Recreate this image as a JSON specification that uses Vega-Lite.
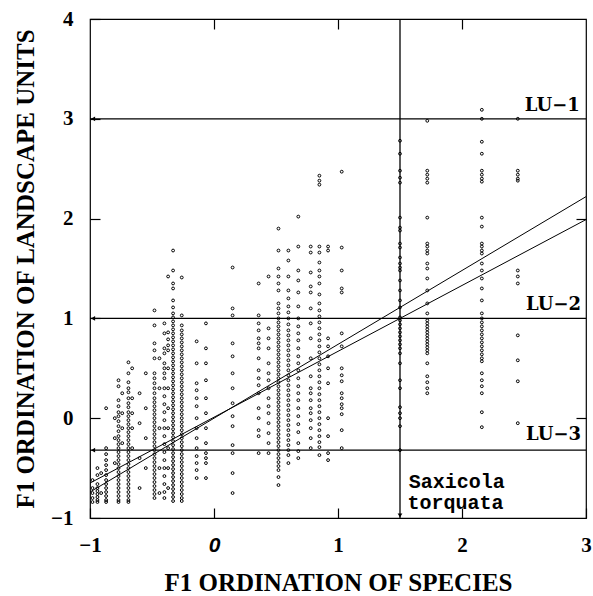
{
"$schema": "https://vega.github.io/schema/vega-lite/v6.json",
"width": 496, "height": 499,
"autosize": {"type": "none"},
"padding": {"left": 90, "top": 19, "right": 7, "bottom": 78},
"background": "white",
"config": {
 "view": {"stroke": "black", "strokeWidth": 1.2},
 "axis": {"grid": false, "domain": false, "ticks": true, "tickSize": -10, "tickColor": "black", "tickWidth": 1.2,
  "labelFont": "Liberation Serif", "labelFontWeight": "bold", "labelFontSize": 21, "labelColor": "black",
  "titleFont": "Liberation Serif", "titleFontWeight": "bold", "titleFontSize": 25, "titleColor": "black"}
},
"datasets": {
 "pts": [
{"x":-0.98,"y":-0.62},{"x":-0.98,"y":-0.7},{"x":-0.98,"y":-0.75},{"x":-0.98,"y":-0.8},{"x":-0.98,"y":-0.84},
{"x":-0.94,"y":-0.5},{"x":-0.94,"y":-0.57},{"x":-0.94,"y":-0.66},{"x":-0.94,"y":-0.7},{"x":-0.94,"y":-0.73},{"x":-0.94,"y":-0.76},{"x":-0.94,"y":-0.79},{"x":-0.94,"y":-0.82},{"x":-0.94,"y":-0.84},
{"x":-0.91,"y":-0.55},{"x":-0.91,"y":-0.75},
{"x":-0.87,"y":0.1},{"x":-0.87,"y":-0.3},{"x":-0.87,"y":-0.36},{"x":-0.87,"y":-0.42},{"x":-0.87,"y":-0.47},{"x":-0.87,"y":-0.52},{"x":-0.87,"y":-0.57},{"x":-0.87,"y":-0.62},{"x":-0.87,"y":-0.66},{"x":-0.87,"y":-0.7},{"x":-0.87,"y":-0.74},{"x":-0.87,"y":-0.78},{"x":-0.87,"y":-0.82},{"x":-0.87,"y":-0.84},
{"x":-0.8,"y":0.0},{"x":-0.8,"y":-0.2},{"x":-0.8,"y":-0.45},
{"x":-0.77,"y":0.38},{"x":-0.77,"y":0.32},{"x":-0.77,"y":0.18},{"x":-0.77,"y":0.12},{"x":-0.77,"y":0.06},{"x":-0.77,"y":0.02},{"x":-0.77,"y":-0.03},{"x":-0.77,"y":-0.08},{"x":-0.77,"y":-0.13},{"x":-0.77,"y":-0.18},{"x":-0.77,"y":-0.22},{"x":-0.77,"y":-0.26},{"x":-0.77,"y":-0.3},{"x":-0.77,"y":-0.34},{"x":-0.77,"y":-0.38},{"x":-0.77,"y":-0.42},{"x":-0.77,"y":-0.46},{"x":-0.77,"y":-0.5},{"x":-0.77,"y":-0.54},{"x":-0.77,"y":-0.58},{"x":-0.77,"y":-0.62},{"x":-0.77,"y":-0.66},{"x":-0.77,"y":-0.7},{"x":-0.77,"y":-0.74},{"x":-0.77,"y":-0.78},{"x":-0.77,"y":-0.82},{"x":-0.77,"y":-0.84},
{"x":-0.74,"y":0.25},{"x":-0.74,"y":0.05},{"x":-0.74,"y":-0.1},{"x":-0.74,"y":-0.25},
{"x":-0.69,"y":0.56},{"x":-0.69,"y":0.45},{"x":-0.69,"y":0.36},{"x":-0.69,"y":0.3},{"x":-0.69,"y":0.26},{"x":-0.69,"y":0.2},{"x":-0.69,"y":0.15},{"x":-0.69,"y":0.11},{"x":-0.69,"y":0.06},{"x":-0.69,"y":0.02},{"x":-0.69,"y":-0.02},{"x":-0.69,"y":-0.06},{"x":-0.69,"y":-0.1},{"x":-0.69,"y":-0.14},{"x":-0.69,"y":-0.18},{"x":-0.69,"y":-0.22},{"x":-0.69,"y":-0.26},{"x":-0.69,"y":-0.3},{"x":-0.69,"y":-0.34},{"x":-0.69,"y":-0.38},{"x":-0.69,"y":-0.42},{"x":-0.69,"y":-0.46},{"x":-0.69,"y":-0.5},{"x":-0.69,"y":-0.54},{"x":-0.69,"y":-0.58},{"x":-0.69,"y":-0.62},{"x":-0.69,"y":-0.66},{"x":-0.69,"y":-0.7},{"x":-0.69,"y":-0.74},{"x":-0.69,"y":-0.78},{"x":-0.69,"y":-0.82},{"x":-0.69,"y":-0.84},
{"x":-0.66,"y":0.5},{"x":-0.66,"y":0.2},{"x":-0.66,"y":0.05},{"x":-0.66,"y":-0.1},{"x":-0.66,"y":-0.3},
{"x":-0.6,"y":0.25},{"x":-0.6,"y":-0.05},{"x":-0.6,"y":-0.4},{"x":-0.6,"y":-0.7},
{"x":-0.55,"y":0.45},{"x":-0.55,"y":0.1},{"x":-0.55,"y":-0.2},{"x":-0.55,"y":-0.5},
{"x":-0.48,"y":1.08},{"x":-0.48,"y":0.93},{"x":-0.48,"y":0.75},{"x":-0.48,"y":0.68},{"x":-0.48,"y":0.6},{"x":-0.48,"y":0.45},{"x":-0.48,"y":0.4},{"x":-0.48,"y":0.35},{"x":-0.48,"y":0.3},{"x":-0.48,"y":0.25},{"x":-0.48,"y":0.2},{"x":-0.48,"y":0.16},{"x":-0.48,"y":0.12},{"x":-0.48,"y":0.08},{"x":-0.48,"y":0.04},{"x":-0.48,"y":0.0},{"x":-0.48,"y":-0.04},{"x":-0.48,"y":-0.08},{"x":-0.48,"y":-0.12},{"x":-0.48,"y":-0.16},{"x":-0.48,"y":-0.2},{"x":-0.48,"y":-0.24},{"x":-0.48,"y":-0.28},{"x":-0.48,"y":-0.32},{"x":-0.48,"y":-0.36},{"x":-0.48,"y":-0.4},{"x":-0.48,"y":-0.44},{"x":-0.48,"y":-0.48},{"x":-0.48,"y":-0.52},{"x":-0.48,"y":-0.56},{"x":-0.48,"y":-0.6},{"x":-0.48,"y":-0.64},{"x":-0.48,"y":-0.68},{"x":-0.48,"y":-0.72},{"x":-0.48,"y":-0.76},{"x":-0.48,"y":-0.8},
{"x":-0.44,"y":0.6},{"x":-0.44,"y":0.3},{"x":-0.44,"y":-0.1},{"x":-0.44,"y":-0.5},{"x":-0.44,"y":-0.75},
{"x":-0.4,"y":0.95},{"x":-0.4,"y":0.85},{"x":-0.4,"y":0.7},{"x":-0.4,"y":0.65},{"x":-0.4,"y":0.55},{"x":-0.4,"y":0.5},{"x":-0.4,"y":0.45},{"x":-0.4,"y":0.4},{"x":-0.4,"y":0.3},{"x":-0.4,"y":0.22},{"x":-0.4,"y":0.14},{"x":-0.4,"y":0.06},{"x":-0.4,"y":-0.02},{"x":-0.4,"y":-0.1},{"x":-0.4,"y":-0.18},{"x":-0.4,"y":-0.26},{"x":-0.4,"y":-0.34},{"x":-0.4,"y":-0.42},{"x":-0.4,"y":-0.5},{"x":-0.4,"y":-0.58},{"x":-0.4,"y":-0.66},{"x":-0.4,"y":-0.74},{"x":-0.4,"y":-0.8},
{"x":-0.37,"y":1.42},{"x":-0.37,"y":0.86},{"x":-0.37,"y":0.79},{"x":-0.37,"y":0.73},{"x":-0.37,"y":0.68},{"x":-0.37,"y":0.5},{"x":-0.37,"y":0.3},{"x":-0.37,"y":0.1},{"x":-0.37,"y":-0.1},{"x":-0.37,"y":-0.3},{"x":-0.37,"y":-0.5},{"x":-0.37,"y":-0.7},
{"x":-0.33,"y":1.68},{"x":-0.33,"y":1.48},{"x":-0.33,"y":1.35},{"x":-0.33,"y":1.3},{"x":-0.33,"y":1.18},{"x":-0.33,"y":1.11},{"x":-0.33,"y":1.05},{"x":-0.33,"y":1.01},{"x":-0.33,"y":0.97},{"x":-0.33,"y":0.93},{"x":-0.33,"y":0.89},{"x":-0.33,"y":0.85},{"x":-0.33,"y":0.81},{"x":-0.33,"y":0.77},{"x":-0.33,"y":0.73},{"x":-0.33,"y":0.69},{"x":-0.33,"y":0.65},{"x":-0.33,"y":0.61},{"x":-0.33,"y":0.57},{"x":-0.33,"y":0.53},{"x":-0.33,"y":0.49},{"x":-0.33,"y":0.45},{"x":-0.33,"y":0.41},{"x":-0.33,"y":0.37},{"x":-0.33,"y":0.33},{"x":-0.33,"y":0.29},{"x":-0.33,"y":0.25},{"x":-0.33,"y":0.21},{"x":-0.33,"y":0.17},{"x":-0.33,"y":0.13},{"x":-0.33,"y":0.09},{"x":-0.33,"y":0.05},{"x":-0.33,"y":0.01},{"x":-0.33,"y":-0.03},{"x":-0.33,"y":-0.07},{"x":-0.33,"y":-0.11},{"x":-0.33,"y":-0.15},{"x":-0.33,"y":-0.19},{"x":-0.33,"y":-0.23},{"x":-0.33,"y":-0.27},{"x":-0.33,"y":-0.31},{"x":-0.33,"y":-0.35},{"x":-0.33,"y":-0.39},{"x":-0.33,"y":-0.43},{"x":-0.33,"y":-0.47},{"x":-0.33,"y":-0.51},{"x":-0.33,"y":-0.55},{"x":-0.33,"y":-0.59},{"x":-0.33,"y":-0.63},{"x":-0.33,"y":-0.67},{"x":-0.33,"y":-0.71},{"x":-0.33,"y":-0.75},{"x":-0.33,"y":-0.79},{"x":-0.33,"y":-0.83},
{"x":-0.26,"y":1.41},{"x":-0.26,"y":1.03},{"x":-0.26,"y":0.93},{"x":-0.26,"y":0.88},{"x":-0.26,"y":0.84},{"x":-0.26,"y":0.8},{"x":-0.26,"y":0.76},{"x":-0.26,"y":0.72},{"x":-0.26,"y":0.68},{"x":-0.26,"y":0.64},{"x":-0.26,"y":0.6},{"x":-0.26,"y":0.56},{"x":-0.26,"y":0.52},{"x":-0.26,"y":0.48},{"x":-0.26,"y":0.44},{"x":-0.26,"y":0.4},{"x":-0.26,"y":0.36},{"x":-0.26,"y":0.32},{"x":-0.26,"y":0.28},{"x":-0.26,"y":0.24},{"x":-0.26,"y":0.2},{"x":-0.26,"y":0.16},{"x":-0.26,"y":0.12},{"x":-0.26,"y":0.08},{"x":-0.26,"y":0.04},{"x":-0.26,"y":0.0},{"x":-0.26,"y":-0.04},{"x":-0.26,"y":-0.08},{"x":-0.26,"y":-0.12},{"x":-0.26,"y":-0.16},{"x":-0.26,"y":-0.2},{"x":-0.26,"y":-0.24},{"x":-0.26,"y":-0.28},{"x":-0.26,"y":-0.32},{"x":-0.26,"y":-0.36},{"x":-0.26,"y":-0.4},{"x":-0.26,"y":-0.44},{"x":-0.26,"y":-0.48},{"x":-0.26,"y":-0.52},{"x":-0.26,"y":-0.56},{"x":-0.26,"y":-0.6},{"x":-0.26,"y":-0.64},{"x":-0.26,"y":-0.68},{"x":-0.26,"y":-0.72},{"x":-0.26,"y":-0.76},{"x":-0.26,"y":-0.8},{"x":-0.26,"y":-0.83},
{"x":-0.14,"y":0.77},{"x":-0.14,"y":0.55},{"x":-0.14,"y":0.35},{"x":-0.14,"y":0.28},{"x":-0.14,"y":0.2},{"x":-0.14,"y":0.12},{"x":-0.14,"y":0.0},{"x":-0.14,"y":-0.1},{"x":-0.14,"y":-0.2},{"x":-0.14,"y":-0.3},{"x":-0.14,"y":-0.38},{"x":-0.14,"y":-0.45},{"x":-0.14,"y":-0.52},{"x":-0.14,"y":-0.6},
{"x":-0.065,"y":0.95},{"x":-0.065,"y":0.7},{"x":-0.065,"y":0.55},{"x":-0.065,"y":0.38},{"x":-0.065,"y":0.2},{"x":-0.065,"y":0.05},{"x":-0.065,"y":-0.1},{"x":-0.065,"y":-0.25},{"x":-0.065,"y":-0.35},{"x":-0.065,"y":-0.4},{"x":-0.065,"y":-0.45},{"x":-0.065,"y":-0.6},
{"x":0.15,"y":1.51},{"x":0.15,"y":1.1},{"x":0.15,"y":1.03},{"x":0.15,"y":0.75},{"x":0.15,"y":0.62},{"x":0.15,"y":0.45},{"x":0.15,"y":0.3},{"x":0.15,"y":0.15},{"x":0.15,"y":0.02},{"x":0.15,"y":-0.08},{"x":0.15,"y":-0.27},{"x":0.15,"y":-0.35},{"x":0.15,"y":-0.55},{"x":0.15,"y":-0.75},
{"x":0.36,"y":1.35},{"x":0.36,"y":1.03},{"x":0.36,"y":0.95},{"x":0.36,"y":0.88},{"x":0.36,"y":0.8},{"x":0.36,"y":0.75},{"x":0.36,"y":0.7},{"x":0.36,"y":0.6},{"x":0.36,"y":0.48},{"x":0.36,"y":0.4},{"x":0.36,"y":0.33},{"x":0.36,"y":0.25},{"x":0.36,"y":0.1},{"x":0.36,"y":0.0},{"x":0.36,"y":-0.12},{"x":0.36,"y":-0.18},{"x":0.36,"y":-0.35},
{"x":0.44,"y":1.42},{"x":0.44,"y":0.9},{"x":0.44,"y":0.8},{"x":0.44,"y":0.7},{"x":0.44,"y":0.55},{"x":0.44,"y":0.45},{"x":0.44,"y":0.38},{"x":0.44,"y":0.3},{"x":0.44,"y":0.2},{"x":0.44,"y":0.12},{"x":0.44,"y":0.05},{"x":0.44,"y":-0.05},{"x":0.44,"y":-0.15},{"x":0.44,"y":-0.25},{"x":0.44,"y":-0.35},
{"x":0.52,"y":1.9},{"x":0.52,"y":1.68},{"x":0.52,"y":1.5},{"x":0.52,"y":1.42},{"x":0.52,"y":1.35},{"x":0.52,"y":1.28},{"x":0.52,"y":1.15},{"x":0.52,"y":1.1},{"x":0.52,"y":1.05},{"x":0.52,"y":1.0},{"x":0.52,"y":0.96},{"x":0.52,"y":0.92},{"x":0.52,"y":0.88},{"x":0.52,"y":0.84},{"x":0.52,"y":0.8},{"x":0.52,"y":0.76},{"x":0.52,"y":0.72},{"x":0.52,"y":0.68},{"x":0.52,"y":0.64},{"x":0.52,"y":0.6},{"x":0.52,"y":0.56},{"x":0.52,"y":0.52},{"x":0.52,"y":0.48},{"x":0.52,"y":0.44},{"x":0.52,"y":0.4},{"x":0.52,"y":0.36},{"x":0.52,"y":0.32},{"x":0.52,"y":0.28},{"x":0.52,"y":0.24},{"x":0.52,"y":0.2},{"x":0.52,"y":0.16},{"x":0.52,"y":0.12},{"x":0.52,"y":0.08},{"x":0.52,"y":0.04},{"x":0.52,"y":0.0},{"x":0.52,"y":-0.04},{"x":0.52,"y":-0.08},{"x":0.52,"y":-0.12},{"x":0.52,"y":-0.16},{"x":0.52,"y":-0.2},{"x":0.52,"y":-0.24},{"x":0.52,"y":-0.28},{"x":0.52,"y":-0.32},{"x":0.52,"y":-0.36},{"x":0.52,"y":-0.4},{"x":0.52,"y":-0.44},{"x":0.52,"y":-0.48},{"x":0.52,"y":-0.52},{"x":0.52,"y":-0.59},{"x":0.52,"y":-0.67},
{"x":0.6,"y":1.68},{"x":0.6,"y":1.58},{"x":0.6,"y":1.42},{"x":0.6,"y":1.28},{"x":0.6,"y":1.2},{"x":0.6,"y":1.12},{"x":0.6,"y":1.06},{"x":0.6,"y":1.0},{"x":0.6,"y":0.94},{"x":0.6,"y":0.88},{"x":0.6,"y":0.83},{"x":0.6,"y":0.78},{"x":0.6,"y":0.73},{"x":0.6,"y":0.68},{"x":0.6,"y":0.63},{"x":0.6,"y":0.58},{"x":0.6,"y":0.53},{"x":0.6,"y":0.48},{"x":0.6,"y":0.43},{"x":0.6,"y":0.38},{"x":0.6,"y":0.33},{"x":0.6,"y":0.28},{"x":0.6,"y":0.23},{"x":0.6,"y":0.18},{"x":0.6,"y":0.13},{"x":0.6,"y":0.08},{"x":0.6,"y":0.03},{"x":0.6,"y":-0.02},{"x":0.6,"y":-0.07},{"x":0.6,"y":-0.12},{"x":0.6,"y":-0.17},{"x":0.6,"y":-0.22},{"x":0.6,"y":-0.27},{"x":0.6,"y":-0.32},{"x":0.6,"y":-0.37},{"x":0.6,"y":-0.45},
{"x":0.68,"y":2.02},{"x":0.68,"y":1.72},{"x":0.68,"y":1.48},{"x":0.68,"y":1.38},{"x":0.68,"y":1.26},{"x":0.68,"y":1.12},{"x":0.68,"y":1.0},{"x":0.68,"y":0.92},{"x":0.68,"y":0.85},{"x":0.68,"y":0.78},{"x":0.68,"y":0.7},{"x":0.68,"y":0.62},{"x":0.68,"y":0.55},{"x":0.68,"y":0.48},{"x":0.68,"y":0.4},{"x":0.68,"y":0.32},{"x":0.68,"y":0.25},{"x":0.68,"y":0.18},{"x":0.68,"y":0.1},{"x":0.68,"y":0.02},{"x":0.68,"y":-0.06},{"x":0.68,"y":-0.14},{"x":0.68,"y":-0.25},{"x":0.68,"y":-0.33},{"x":0.68,"y":-0.4},
{"x":0.78,"y":1.72},{"x":0.78,"y":1.66},{"x":0.78,"y":1.46},{"x":0.78,"y":1.32},{"x":0.78,"y":1.26},{"x":0.78,"y":1.1},{"x":0.78,"y":0.95},{"x":0.78,"y":0.8},{"x":0.78,"y":0.6},{"x":0.78,"y":0.42},{"x":0.78,"y":0.3},{"x":0.78,"y":0.25},{"x":0.78,"y":0.18},{"x":0.78,"y":0.1},{"x":0.78,"y":0.05},{"x":0.78,"y":-0.02},{"x":0.78,"y":-0.1},{"x":0.78,"y":-0.2},{"x":0.78,"y":-0.3},
{"x":0.85,"y":2.43},{"x":0.85,"y":2.38},{"x":0.85,"y":2.34},{"x":0.85,"y":1.72},{"x":0.85,"y":1.66},{"x":0.85,"y":1.56},{"x":0.85,"y":1.48},{"x":0.85,"y":1.42},{"x":0.85,"y":1.35},{"x":0.85,"y":1.24},{"x":0.85,"y":1.15},{"x":0.85,"y":1.08},{"x":0.85,"y":1.02},{"x":0.85,"y":0.96},{"x":0.85,"y":0.9},{"x":0.85,"y":0.84},{"x":0.85,"y":0.78},{"x":0.85,"y":0.72},{"x":0.85,"y":0.66},{"x":0.85,"y":0.6},{"x":0.85,"y":0.54},{"x":0.85,"y":0.48},{"x":0.85,"y":0.42},{"x":0.85,"y":0.36},{"x":0.85,"y":0.3},{"x":0.85,"y":0.24},{"x":0.85,"y":0.18},{"x":0.85,"y":0.12},{"x":0.85,"y":0.06},{"x":0.85,"y":0.0},{"x":0.85,"y":-0.06},{"x":0.85,"y":-0.12},{"x":0.85,"y":-0.18},{"x":0.85,"y":-0.24},{"x":0.85,"y":-0.29},{"x":0.85,"y":-0.37},
{"x":0.92,"y":1.72},{"x":0.92,"y":1.68},{"x":0.92,"y":0.8},{"x":0.92,"y":0.72},{"x":0.92,"y":0.62},{"x":0.92,"y":0.5},{"x":0.92,"y":0.35},{"x":0.92,"y":0.0},{"x":0.92,"y":-0.18},{"x":0.92,"y":-0.35},{"x":0.92,"y":-0.42},
{"x":1.03,"y":2.47},{"x":1.03,"y":1.71},{"x":1.03,"y":1.48},{"x":1.03,"y":1.3},{"x":1.03,"y":1.26},{"x":1.03,"y":0.85},{"x":1.03,"y":0.72},{"x":1.03,"y":0.5},{"x":1.03,"y":0.43},{"x":1.03,"y":0.37},{"x":1.03,"y":0.25},{"x":1.03,"y":0.2},{"x":1.03,"y":0.14},{"x":1.03,"y":0.1},{"x":1.03,"y":0.04},{"x":1.03,"y":-0.12},{"x":1.03,"y":-0.3},
{"x":1.5,"y":2.78},{"x":1.5,"y":2.65},{"x":1.5,"y":2.48},{"x":1.5,"y":2.41},{"x":1.5,"y":2.36},{"x":1.5,"y":2.01},{"x":1.5,"y":1.91},{"x":1.5,"y":1.88},{"x":1.5,"y":1.75},{"x":1.5,"y":1.71},{"x":1.5,"y":1.61},{"x":1.5,"y":1.55},{"x":1.5,"y":1.51},{"x":1.5,"y":1.48},{"x":1.5,"y":1.38},{"x":1.5,"y":1.28},{"x":1.5,"y":1.18},{"x":1.5,"y":1.11},{"x":1.5,"y":1.01},{"x":1.5,"y":0.98},{"x":1.5,"y":0.94},{"x":1.5,"y":0.9},{"x":1.5,"y":0.86},{"x":1.5,"y":0.82},{"x":1.5,"y":0.78},{"x":1.5,"y":0.74},{"x":1.5,"y":0.7},{"x":1.5,"y":0.65},{"x":1.5,"y":0.55},{"x":1.5,"y":0.38},{"x":1.5,"y":0.3},{"x":1.5,"y":0.11},{"x":1.5,"y":0.05},{"x":1.5,"y":0.0},{"x":1.5,"y":-0.08},{"x":1.5,"y":-0.32},
{"x":1.72,"y":2.98},{"x":1.72,"y":2.48},{"x":1.72,"y":2.44},{"x":1.72,"y":2.4},{"x":1.72,"y":2.36},{"x":1.72,"y":2.01},{"x":1.72,"y":1.75},{"x":1.72,"y":1.72},{"x":1.72,"y":1.68},{"x":1.72,"y":1.65},{"x":1.72,"y":1.55},{"x":1.72,"y":1.5},{"x":1.72,"y":1.4},{"x":1.72,"y":1.28},{"x":1.72,"y":1.15},{"x":1.72,"y":1.05},{"x":1.72,"y":0.98},{"x":1.72,"y":0.95},{"x":1.72,"y":0.92},{"x":1.72,"y":0.89},{"x":1.72,"y":0.86},{"x":1.72,"y":0.83},{"x":1.72,"y":0.8},{"x":1.72,"y":0.77},{"x":1.72,"y":0.74},{"x":1.72,"y":0.71},{"x":1.72,"y":0.68},{"x":1.72,"y":0.65},{"x":1.72,"y":0.55},{"x":1.72,"y":0.42},{"x":1.72,"y":0.36},{"x":1.72,"y":0.3},{"x":1.72,"y":0.25},
{"x":2.16,"y":3.09},{"x":2.16,"y":3.0},{"x":2.16,"y":2.77},{"x":2.16,"y":2.65},{"x":2.16,"y":2.48},{"x":2.16,"y":2.44},{"x":2.16,"y":2.4},{"x":2.16,"y":2.37},{"x":2.16,"y":2.01},{"x":2.16,"y":1.92},{"x":2.16,"y":1.75},{"x":2.16,"y":1.72},{"x":2.16,"y":1.68},{"x":2.16,"y":1.65},{"x":2.16,"y":1.55},{"x":2.16,"y":1.48},{"x":2.16,"y":1.4},{"x":2.16,"y":1.3},{"x":2.16,"y":1.18},{"x":2.16,"y":1.05},{"x":2.16,"y":1.0},{"x":2.16,"y":0.96},{"x":2.16,"y":0.92},{"x":2.16,"y":0.88},{"x":2.16,"y":0.84},{"x":2.16,"y":0.8},{"x":2.16,"y":0.76},{"x":2.16,"y":0.72},{"x":2.16,"y":0.68},{"x":2.16,"y":0.64},{"x":2.16,"y":0.6},{"x":2.16,"y":0.57},{"x":2.16,"y":0.45},{"x":2.16,"y":0.38},{"x":2.16,"y":0.32},{"x":2.16,"y":0.25},{"x":2.16,"y":0.06},{"x":2.16,"y":-0.09},
{"x":2.45,"y":3.0},{"x":2.45,"y":2.48},{"x":2.45,"y":2.44},{"x":2.45,"y":2.4},{"x":2.45,"y":2.38},{"x":2.45,"y":1.48},{"x":2.45,"y":1.42},{"x":2.45,"y":1.35},{"x":2.45,"y":0.83},{"x":2.45,"y":0.58},{"x":2.45,"y":0.37},{"x":2.45,"y":-0.05}
 ],
 "fits": [
  {"fit":"A","x":-1,"y":-0.74,"x2":3,"y2":2.22},
  {"fit":"B","x":-1,"y":-0.65,"x2":3,"y2":1.99}
 ],
 "units": [{"unit":"LU−1","y":3},{"unit":"LU−2","y":1},{"unit":"LU−3","y":-0.32}],
 "species": [{"x":1.5,"name":"Saxicola torquata"}],
 "arrows": [
  {"x":-0.975,"y":3,"dir":"left"},{"x":-0.975,"y":1,"dir":"left"},{"x":-0.975,"y":-0.32,"dir":"left"},{"x":1.5,"y":-0.975,"dir":"down"}
 ],
 "unitLabels": [{"text":"LU−1","x":2.95,"y":3.08},{"text":"LU−2","x":2.96,"y":1.08},{"text":"LU−3","x":2.96,"y":-0.22}],
 "speciesLabels": [{"text":"Saxicola","x":1.57,"y":-0.695},{"text":"torquata","x":1.56,"y":-0.91}]
},
"resolve": {"axis": {"x": "independent", "y": "independent"}},
"layer": [
 {
  "data": {"name": "pts"},
  "mark": {"type": "point", "shape": "circle", "filled": false, "size": 8, "strokeWidth": 1, "color": "black", "opacity": 1},
  "encoding": {
   "x": {"field": "x", "type": "quantitative", "scale": {"domain": [-1, 3], "nice": false, "zero": false},
    "axis": {"orient": "bottom", "values": [-1, 0, 1, 2, 3], "title": "F1 ORDINATION OF SPECIES", "labelPadding": 26, "labelFlush": false, "labelOverlap": false,
     "titleY": 72, "titleBaseline": "alphabetic",
     "labelFontStyle": {"condition": {"test": "datum.value === 0", "value": "italic"}, "value": "normal"},
     "labelFont": {"condition": {"test": "datum.value === 0", "value": "Liberation Sans"}, "value": "Liberation Serif"}}},
   "y": {"field": "y", "type": "quantitative", "scale": {"domain": [-1, 4], "nice": false, "zero": false},
    "axis": {"orient": "left", "values": [-1, 0, 1, 2, 3, 4], "title": "F1 ORDINATION OF LANDSCAPE UNITS", "labelPadding": 27, "labelFlush": false, "labelOverlap": false,
     "titleX": -57, "titleBaseline": "alphabetic"}}
  }
 },
 {
  "data": {"name": "units"},
  "mark": {"type": "rule", "color": "black", "strokeWidth": 1.2},
  "encoding": {
   "y": {"field": "y", "type": "quantitative", "scale": {"domain": [-1, 4], "nice": false, "zero": false},
    "axis": {"orient": "right", "values": [0, 2], "labels": false, "title": null}}
  }
 },
 {
  "data": {"name": "species"},
  "mark": {"type": "rule", "color": "black", "strokeWidth": 1.3},
  "encoding": {
   "x": {"field": "x", "type": "quantitative", "scale": {"domain": [-1, 3], "nice": false, "zero": false},
    "axis": {"orient": "top", "values": [0, 1, 2], "labels": false, "title": null}}
  }
 },
 {
  "data": {"name": "fits"},
  "mark": {"type": "rule", "color": "black", "strokeWidth": 1},
  "encoding": {
   "x": {"field": "x", "type": "quantitative", "scale": {"domain": [-1, 3], "nice": false, "zero": false}, "axis": null},
   "y": {"field": "y", "type": "quantitative", "scale": {"domain": [-1, 4], "nice": false, "zero": false}, "axis": null},
   "x2": {"field": "x2"},
   "y2": {"field": "y2"}
  }
 },
 {
  "data": {"name": "arrows"},
  "mark": {"type": "point", "filled": true, "size": 22, "color": "black", "opacity": 1},
  "encoding": {
   "x": {"field": "x", "type": "quantitative", "scale": {"domain": [-1, 3], "nice": false, "zero": false}, "axis": null},
   "y": {"field": "y", "type": "quantitative", "scale": {"domain": [-1, 4], "nice": false, "zero": false}, "axis": null},
   "shape": {"field": "dir", "type": "nominal", "scale": {"domain": ["left", "down"], "range": ["triangle-left", "triangle-down"]}, "legend": null}
  }
 },
 {
  "data": {"name": "unitLabels"},
  "mark": {"type": "text", "font": "DejaVu Serif", "fontWeight": "bold", "fontSize": 18, "align": "right", "baseline": "alphabetic", "color": "black"},
  "encoding": {
   "x": {"field": "x", "type": "quantitative", "scale": {"domain": [-1, 3], "nice": false, "zero": false}, "axis": null},
   "y": {"field": "y", "type": "quantitative", "scale": {"domain": [-1, 4], "nice": false, "zero": false}, "axis": null},
   "text": {"field": "text"}
  }
 },
 {
  "data": {"name": "speciesLabels"},
  "mark": {"type": "text", "font": "Liberation Mono", "fontWeight": "bold", "fontSize": 20, "align": "left", "baseline": "alphabetic", "color": "black"},
  "encoding": {
   "x": {"field": "x", "type": "quantitative", "scale": {"domain": [-1, 3], "nice": false, "zero": false}, "axis": null},
   "y": {"field": "y", "type": "quantitative", "scale": {"domain": [-1, 4], "nice": false, "zero": false}, "axis": null},
   "text": {"field": "text"}
  }
 }
]
}
